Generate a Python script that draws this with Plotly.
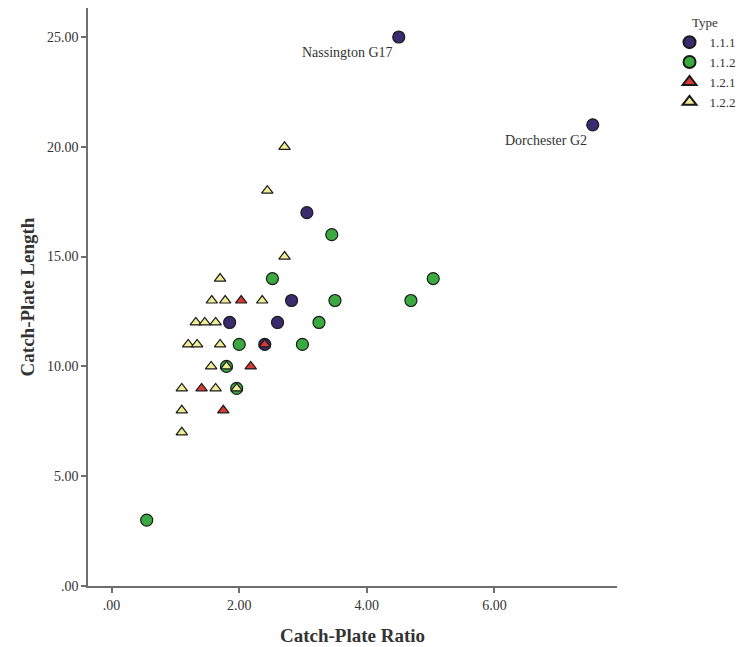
import plotly.graph_objects as go

# Data (Catch-Plate Ratio, Catch-Plate Length)
t111_x = [4.50, 7.54, 3.06, 2.82, 1.85, 2.60, 2.40]
t111_y = [25, 21, 17, 13, 12, 12, 11]

t112_x = [0.55, 2.52, 3.45, 3.50, 3.25, 2.00, 2.99, 1.80, 1.96, 4.69, 5.04]
t112_y = [3, 14, 16, 13, 12, 11, 11, 10, 9, 13, 14]

t121_x = [2.03, 2.40, 2.18, 1.41, 1.75]
t121_y = [13, 11, 10, 9, 8]

t122_x = [2.71, 2.44, 2.71, 1.70, 1.57, 1.78, 2.36, 1.32, 1.46, 1.63,
          1.20, 1.34, 1.70, 1.56, 1.80, 1.10, 1.63, 1.96, 1.10, 1.10]
t122_y = [20, 18, 15, 14, 13, 13, 13, 12, 12, 12,
          11, 11, 11, 10, 10, 9, 9, 9, 8, 7]

x_ticks = [0, 2, 4, 6]
x_tick_labels = [".00", "2.00", "4.00", "6.00"]
y_ticks = [0, 5, 10, 15, 20, 25]
y_tick_labels = [".00", "5.00", "10.00", "15.00", "20.00", "25.00"]

labels = [("Nassington G17", 4.50, 25), ("Dorchester G2", 7.54, 21)]

FONT = "Liberation Serif, Times New Roman, serif"

fig = go.Figure()
series = [
    ("1.1.1", t111_x, t111_y, "circle", "#3a2a6e", 12),
    ("1.1.2", t112_x, t112_y, "circle", "#3aaa40", 12),
    ("1.2.1", t121_x, t121_y, "triangle-up", "#d83a34", 10),
    ("1.2.2", t122_x, t122_y, "triangle-up", "#f0ec94", 10),
]
for name, xs, ys, sym, col, sz in series:
    fig.add_trace(go.Scatter(
        x=xs, y=ys, mode="markers", name=name,
        marker=dict(symbol=sym, color=col, size=sz,
                    line=dict(color="#1a1a1a", width=1.2)),
    ))

for txt, lx, ly in labels:
    fig.add_annotation(x=lx, y=ly, text=txt, showarrow=False,
                       xanchor="right", yanchor="top", xshift=-4, yshift=-6,
                       font=dict(family=FONT, size=14, color="#333333"))

axis_common = dict(
    showgrid=False, zeroline=False, showline=True, linecolor="#6e6e6e",
    linewidth=1.5, ticks="outside", ticklen=5, tickwidth=1.5,
    tickcolor="#6e6e6e", tickfont=dict(family=FONT, size=14, color="#333333"),
    automargin=False,
)

# The page adds an 8px body margin, so the figure is sized to fit the window.
fig.update_layout(
    width=736, height=639,
    margin=dict(l=80, r=127, t=0, b=61, autoexpand=False),
    plot_bgcolor="white", paper_bgcolor="white",
    font=dict(family=FONT, color="#333333"),
    xaxis=dict(range=[-0.37, 7.92], tickvals=x_ticks, ticktext=x_tick_labels,
               title=dict(text="<b>Catch-Plate Ratio</b>",
                          font=dict(family=FONT, size=19, color="#333333"),
                          standoff=17),
               **axis_common),
    yaxis=dict(range=[0, 26.32], tickvals=y_ticks, ticktext=y_tick_labels,
               title=dict(text="<b>Catch-Plate Length</b>",
                          font=dict(family=FONT, size=19, color="#333333"),
                          standoff=7),
               **axis_common),
    legend=dict(x=1.2335, y=0.996, xanchor="right", yanchor="top",
                title=dict(text="Type", side="top center",
                           font=dict(family=FONT, size=13)),
                font=dict(family=FONT, size=13, color="#333333"),
                tracegroupgap=0, itemsizing="constant", itemwidth=30,
                bgcolor="rgba(0,0,0,0)"),
)

fig.write_html("out.html")
